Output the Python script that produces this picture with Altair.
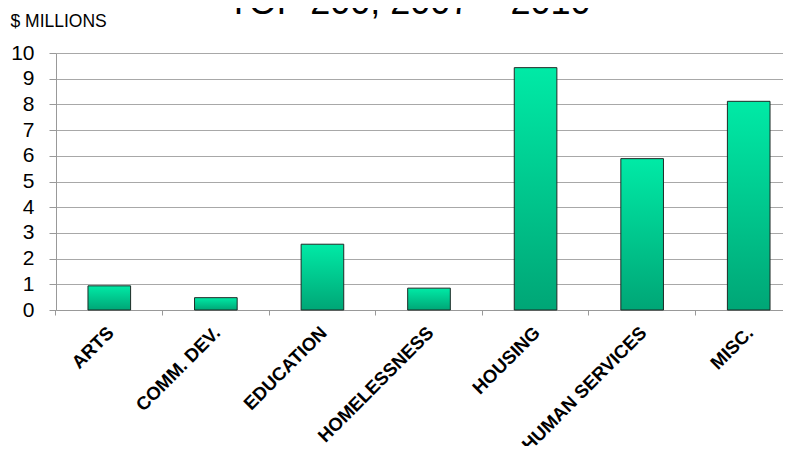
import altair as alt
import pandas as pd

categories = ["ARTS", "COMM. DEV.", "EDUCATION", "HOMELESSNESS", "HOUSING", "HUMAN SERVICES", "MISC."]
values = [0.94, 0.48, 2.56, 0.85, 9.43, 5.89, 8.12]
y_ticks = list(range(0, 11))
title_text = ["TOP 200, 2007 – 2010"]

df = pd.DataFrame({"category": categories, "value": values})
title_df = pd.DataFrame({"t": title_text})

FONT = "Liberation Sans"

grad = alt.Gradient(
    gradient="linear",
    stops=[alt.GradientStop(color="#00EAA6", offset=0),
           alt.GradientStop(color="#00A676", offset=1)],
    x1=0, x2=0, y1=0, y2=1,
)

bars = alt.Chart(df).mark_bar(
    color=grad, stroke="#1E2A26", strokeWidth=1
).encode(
    x=alt.X("category:N", sort=categories,
            scale=alt.Scale(range=[0, 746], paddingInner=0.6, paddingOuter=0.3),
            axis=alt.Axis(title=None, labelAngle=-45, labelFont=FONT, labelFontSize=18.5,
                          labelFontWeight="bold", labelColor="black", labelPadding=8,
                          labelOffset=-5,
                          tickSize=5, tickColor="#999999", domainColor="#999999",
                          bandPosition=-0.75, grid=False, labelAlign="right",
                          labelBaseline="top")),
    y=alt.Y("value:Q",
            scale=alt.Scale(domain=[0, 10], nice=False),
            axis=alt.Axis(values=y_ticks, title="$ MILLIONS", titleAngle=0, titleAlign="left",
                          titleBaseline="alphabetic", titleX=-46, titleY=-27,
                          titleFont=FONT, titleFontSize=17.5, titleFontWeight="normal",
                          titleColor="black",
                          labelFont=FONT, labelFontSize=21, labelColor="black",
                          labelPadding=15, tickSize=7, tickColor="#999999",
                          domainColor="#999999", gridColor="#A8A8A8", grid=True)),
)

title = alt.Chart(title_df).mark_text(
    font=FONT, fontSize=36, color="black", align="center", baseline="alphabetic"
).encode(
    text="t:N",
    x=alt.value(353),
    y=alt.value(-39),
)

chart = alt.layer(bars, title).properties(
    width=727, height=257,
    autosize=alt.AutoSizeParams(type="none"),
    padding={"left": 48, "top": 45, "right": 0, "bottom": 136},
).configure_view(stroke=None)

chart.save("out.html", embed_options={"renderer": "svg", "actions": False})
